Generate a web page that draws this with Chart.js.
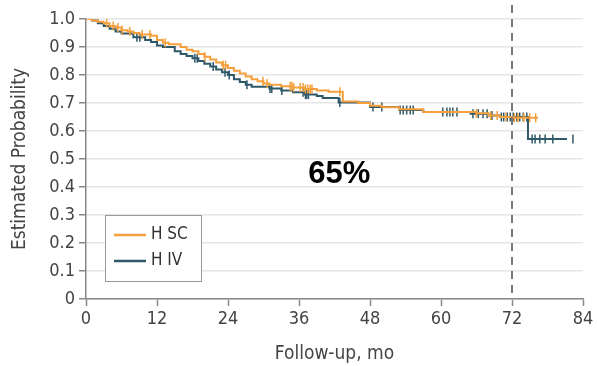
<!DOCTYPE html>
<html><head><meta charset="utf-8">
<script src="https://cdn.jsdelivr.net/npm/chart.js@4/dist/chart.umd.min.js"></script>
<style>html,body{margin:0;padding:0;background:#fff}#w{width:597px;height:366px}</style>
</head><body><div id="w"><canvas id="c"></canvas></div>
<script>
const xTicks = [0, 12, 24, 36, 48, 60, 72, 84];
const yTicks = [0, 0.1, 0.2, 0.3, 0.4, 0.5, 0.6, 0.7, 0.8, 0.9, 1.0];
const seriesNames = ["H SC", "H IV"];
const scTimes = [0, 1, 2, 3, 4, 5, 6, 7, 8, 9, 11, 12, 13, 14, 16, 17, 18, 19, 20, 21, 22, 23, 24, 25, 26, 27, 28, 29, 30, 31, 33, 35, 37, 39, 41, 43.4, 46, 48, 50, 53, 57, 66, 68, 70, 72, 76.4];
const scSurv  = [1.0, 0.995, 0.99, 0.985, 0.975, 0.97, 0.96, 0.955, 0.95, 0.945, 0.94, 0.925, 0.915, 0.91, 0.9, 0.89, 0.885, 0.875, 0.865, 0.855, 0.845, 0.835, 0.825, 0.815, 0.805, 0.795, 0.785, 0.778, 0.77, 0.765, 0.76, 0.755, 0.75, 0.745, 0.74, 0.705, 0.7, 0.69, 0.685, 0.678, 0.668, 0.663, 0.655, 0.65, 0.647, 0.647];
const scCensor = [3.5, 4.6, 5.4, 6.1, 7.4, 9.5, 10.8, 13.4, 20.1, 23.2, 23.6, 29.9, 30.6, 34.5, 34.8, 35.1, 36.2, 36.7, 37.1, 37.5, 37.9, 38.2, 42.9, 66, 68.4, 69.5, 71, 72.4, 73, 74, 75, 76];
const ivTimes = [0, 1, 2, 3, 4, 5, 6, 8, 10, 11, 12, 13, 15, 16, 17, 18, 19, 20, 21, 22, 23, 24, 25, 26, 27, 28, 31, 33, 35, 37, 39, 40, 42.7, 48, 53, 57, 65, 68, 70, 74.7, 81.3];
const ivSurv  = [1.0, 0.995, 0.985, 0.975, 0.965, 0.955, 0.948, 0.935, 0.925, 0.918, 0.905, 0.9, 0.885, 0.875, 0.868, 0.86, 0.85, 0.84, 0.83, 0.82, 0.81, 0.8, 0.785, 0.775, 0.765, 0.758, 0.752, 0.745, 0.738, 0.73, 0.725, 0.718, 0.702, 0.686, 0.675, 0.668, 0.662, 0.655, 0.65, 0.571, 0.571];
const ivCensor = [8.6, 9.1, 18.4, 18.8, 21.5, 23.5, 24.2, 27.2, 31.1, 31.4, 33.1, 36.7, 37.1, 37.3, 37.6, 42.9, 48.5, 50, 53.1, 53.6, 54.2, 54.8, 55.3, 60.3, 61, 61.5, 62, 62.7, 65.4, 66.3, 67.1, 67.8, 68.6, 70.2, 70.6, 71.2, 71.7, 72.2, 72.8, 73.3, 73.9, 74.5, 75.4, 75.9, 76.7, 77.6, 78.9, 82.3];
const annotationText = "65%";
const refLineX = 72;

const ORANGE = '#F5A03C', BLUE = '#2F5868';
const FONT = "'DejaVu Sans Condensed', 'Liberation Sans Narrow', 'DejaVu Sans', sans-serif";

function stepAt(times, surv, t) {
  let v = surv[0];
  for (let i = 0; i < times.length; i++) { if (times[i] <= t) v = surv[i]; }
  return v;
}
const toPts = (ts, ss) => ts.map((t, i) => ({x: t, y: ss[i]}));
const censorPts = (cs, ts, ss) => cs.map(t => ({x: t, y: stepAt(ts, ss, t)}));

const overlay = {
  id: 'overlay',
  afterDatasetsDraw(chart) {
    const {ctx, chartArea: a, scales: {x, y}} = chart;
    ctx.save();
    // reference dashed line
    const px = x.getPixelForValue(refLineX);
    ctx.strokeStyle = '#7a7a7a'; ctx.lineWidth = 2; ctx.setLineDash([8, 6]);
    ctx.beginPath(); ctx.moveTo(px, a.top - 14); ctx.lineTo(px, a.bottom); ctx.stroke();
    ctx.setLineDash([]);
    // annotation
    ctx.fillStyle = '#000';
    ctx.font = "bold 31px 'Liberation Sans', Arial, sans-serif";
    ctx.textAlign = 'center'; ctx.textBaseline = 'middle';
    ctx.fillText(annotationText, x.getPixelForValue(42.8), y.getPixelForValue(0.445));
    // legend
    const lx = a.left + 19, ly = a.bottom - 84, lw = 96, lh = 66;
    ctx.fillStyle = '#fff'; ctx.fillRect(lx, ly, lw, lh);
    ctx.strokeStyle = '#999'; ctx.lineWidth = 1;
    ctx.strokeRect(lx + 0.5, ly + 0.5, lw, lh);
    const cols = [ORANGE, BLUE];
    ctx.font = "17px " + FONT; ctx.textAlign = 'left'; ctx.textBaseline = 'middle';
    seriesNames.forEach((n, i) => {
      const yy = ly + 20 + i * 26;
      ctx.strokeStyle = cols[i]; ctx.lineWidth = 2.5;
      ctx.beginPath(); ctx.moveTo(lx + 9, yy); ctx.lineTo(lx + 41, yy); ctx.stroke();
      ctx.fillStyle = '#333'; ctx.fillText(n, lx + 46, yy);
    });
    ctx.restore();
  }
};

new Chart(document.getElementById('c'), {
  type: 'scatter',
  data: {
    datasets: [
      {label: seriesNames[1], data: toPts(ivTimes, ivSurv), showLine: true, stepped: true, borderColor: BLUE, borderWidth: 2, pointRadius: 0, order: 2},
      {label: seriesNames[1] + ' censored', data: censorPts(ivCensor, ivTimes, ivSurv), showLine: false, pointStyle: 'line', rotation: 90, pointRadius: 4.5, borderColor: BLUE, borderWidth: 1.5, order: 2},
      {label: seriesNames[0], data: toPts(scTimes, scSurv), showLine: true, stepped: true, borderColor: ORANGE, borderWidth: 2, pointRadius: 0, order: 1},
      {label: seriesNames[0] + ' censored', data: censorPts(scCensor, scTimes, scSurv), showLine: false, pointStyle: 'line', rotation: 90, pointRadius: 4.5, borderColor: ORANGE, borderWidth: 1.5, order: 1}
    ]
  },
  options: {
    responsive: true, maintainAspectRatio: false, animation: false,
    layout: {padding: {left: 0, top: 19, right: 14, bottom: 0}},
    plugins: {legend: {display: false}, tooltip: {enabled: false}},
    scales: {
      x: {
        type: 'linear', min: 0, max: 84,
        afterBuildTicks: s => { s.ticks = xTicks.map(v => ({value: v})); },
        afterFit: s => { s.height = 67; },
        grid: {drawOnChartArea: false, drawTicks: true, tickLength: 7, tickColor: '#888', tickWidth: 1.5},
        border: {color: '#888', width: 1.5},
        ticks: {color: '#444', font: {family: FONT, size: 18}, padding: 3, maxRotation: 0},
        title: {display: true, text: 'Follow-up, mo', color: '#444', font: {family: FONT, size: 19}, padding: {top: 0, bottom: 1}}
      },
      y: {
        type: 'linear', min: 0, max: 1,
        afterBuildTicks: s => { s.ticks = yTicks.map(v => ({value: v})); },
        afterFit: s => { s.width = 86; },
        grid: {color: '#e6e6e6', lineWidth: 1.5, drawTicks: true, tickLength: 7, tickColor: '#888', tickWidth: 1.5},
        border: {color: '#888', width: 1.5},
        ticks: {color: '#444', font: {family: FONT, size: 18}, padding: 4,
          callback: v => v === 0 ? '0' : v.toFixed(1)},
        title: {display: true, text: 'Estimated Probability', color: '#444', font: {family: FONT, size: 19}, padding: {top: 9, bottom: 0}}
      }
    }
  },
  plugins: [overlay]
});
</script></body></html>
